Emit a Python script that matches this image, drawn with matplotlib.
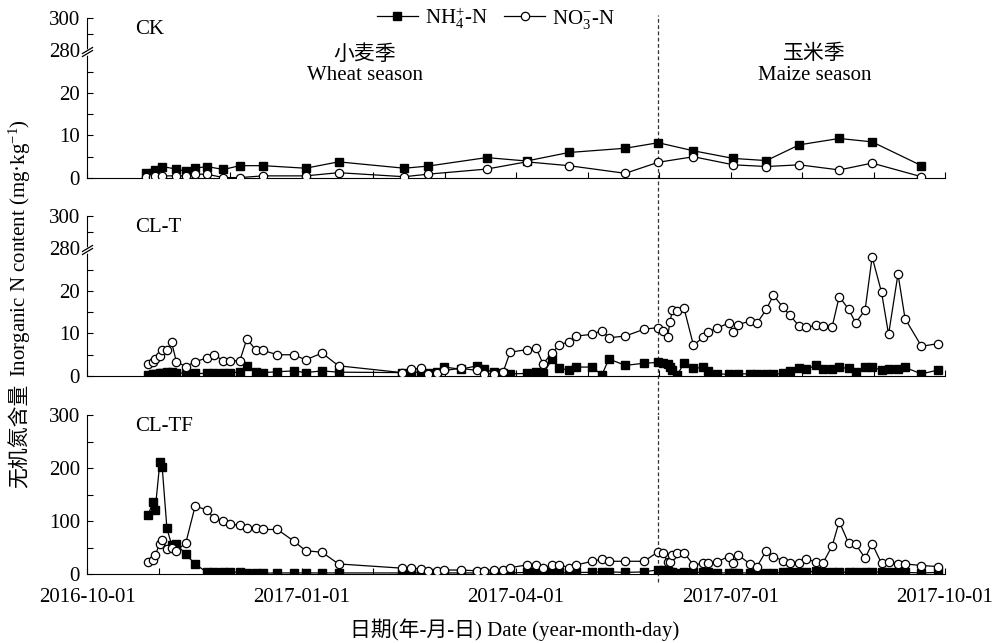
import numpy as np
import pandas as pd
import matplotlib
matplotlib.use("Agg")
import matplotlib.pyplot as plt
import matplotlib.dates as mdates

plt.rcParams['font.family'] = ['Liberation Serif', 'Noto Sans CJK SC']
plt.rcParams['mathtext.fontset'] = 'custom'
plt.rcParams['mathtext.rm'] = 'Liberation Serif'
plt.rcParams['mathtext.it'] = 'Liberation Serif:italic'
plt.rcParams['font.size'] = 15
plt.rcParams['axes.linewidth'] = 0.8
FS = 15

# ---- data ----
ck_dates = ['2016-10-26', '2016-10-29', '2016-10-30', '2016-11-02', '2016-11-08', '2016-11-12',
            '2016-11-16', '2016-11-21', '2016-11-28', '2016-12-05', '2016-12-15', '2017-01-02',
            '2017-01-16', '2017-02-13', '2017-02-23', '2017-03-20', '2017-04-06', '2017-04-24',
            '2017-05-18', '2017-06-01', '2017-06-16', '2017-07-03', '2017-07-17', '2017-07-31',
            '2017-08-17', '2017-08-31', '2017-09-21']
ck_nh4 = [1.1, 1.25, 1.9, 2.7, 2.1, 1.6, 2.3, 2.7, 2.0, 2.9, 2.9, 2.3, 3.8, 2.3, 2.8, 4.8, 4.0,
          6.0, 7.0, 8.3, 6.4, 4.6, 4.1, 7.8, 9.3, 8.5, 2.9]
ck_no3 = [0.3, 0.3, 0.5, 0.5, 0.5, 0.5, 0.9, 0.9, 0.1, 0.1, 0.5, 0.5, 1.25, 0.3, 0.9, 2.1, 3.8,
          2.9, 1.1, 3.7, 5.0, 3.1, 2.7, 3.1, 1.9, 3.5, 0.3]

cl_dates = ['2016-10-27', '2016-10-29', '2016-10-30', '2016-11-01', '2016-11-02', '2016-11-04',
            '2016-11-06', '2016-11-08', '2016-11-12', '2016-11-16', '2016-11-21', '2016-11-24',
            '2016-11-28', '2016-12-01', '2016-12-05', '2016-12-08', '2016-12-12', '2016-12-15',
            '2016-12-21', '2016-12-28', '2017-01-02', '2017-01-09', '2017-01-16', '2017-02-12',
            '2017-02-16', '2017-02-20', '2017-02-23', '2017-02-27', '2017-03-02', '2017-03-09',
            '2017-03-16', '2017-03-19', '2017-03-23', '2017-03-27',
            '2017-03-30', '2017-04-06', '2017-04-10', '2017-04-13', '2017-04-17', '2017-04-20',
            '2017-04-24', '2017-04-27', '2017-05-04', '2017-05-08', '2017-05-11', '2017-05-18',
            '2017-05-26', '2017-06-01', '2017-06-03', '2017-06-05', '2017-06-06', '2017-06-07',
            '2017-06-09', '2017-06-12', '2017-06-16', '2017-06-20', '2017-06-22', '2017-06-26',
            '2017-07-01', '2017-07-03', '2017-07-05', '2017-07-10', '2017-07-13', '2017-07-17',
            '2017-07-20', '2017-07-24', '2017-07-27', '2017-07-31', '2017-08-03', '2017-08-07',
            '2017-08-10', '2017-08-14', '2017-08-17', '2017-08-21', '2017-08-24', '2017-08-28',
            '2017-08-31', '2017-09-04', '2017-09-07', '2017-09-11', '2017-09-14', '2017-09-21',
            '2017-09-28']
clt_nh4 = [0.2, 0.5, 0.5, 0.6, 0.8, 0.9, 1.0, 0.8, 0.6, 0.6, 0.6, 0.8, 0.8, 0.8, 0.9, 2.4, 1.0,
           0.8, 1.0, 1.2, 0.8, 1.2, 0.9, 0.8, 1.0, 0.8, 0.6, 1.0, 2.1, 1.6, 2.4, 1.6, 0.9, 0.6,
           0.5, 0.6, 1.0, 0.6, 4.0, 1.8, 1.4, 2.1, 2.1, 0.2, 4.0, 2.5, 3.0, 3.2, 3.0, 2.9, 2.2,
           1.4, 0.2, 3.0, 1.8, 2.0, 1.2, 0.5, 0.4, 0.2, 0.5, 0.5, 0.5, 0.4, 0.4, 0.6, 1.2, 1.8,
           1.6, 2.5, 1.7, 1.6, 2.0, 1.8, 1.0, 2.2, 2.1, 1.4, 1.6, 1.6, 2.0, 0.5, 1.4]
clt_no3 = [2.8, 3.4, 4.0, 4.8, 6.2, 6.0, 7.9, 3.4, 2.2, 3.4, 4.2, 5.0, 3.6, 3.6, 3.6, 8.7, 6.0,
           6.0, 5.0, 5.0, 3.8, 5.4, 2.4, 0.8, 1.6, 1.8, 0.5, 0.8, 1.3, 1.8, 1.3, 0.5, 0.5, 0.9,
           5.6, 6.2, 6.6, 2.9, 5.5, 7.4, 8.0, 9.4, 9.8, 10.7, 9.0, 9.4, 11.0, 11.4, 10.5, 9.2,
           12.7, 15.5, 15.3, 15.9, 7.2, 9.1, 10.4, 11.2, 12.5, 10.4, 12.1, 12.9, 12.4, 15.7,
           19.0, 16.2, 14.3, 11.7, 11.5, 11.9, 11.7, 11.6, 18.7, 15.7, 12.5, 15.5, 28.0, 19.7,
           9.8, 24.0, 13.5, 7.0, 7.6]
cltf_nh4 = [111, 135, 121, 211, 201, 86, 55, 57, 37, 19, 3, 3.5, 3.5, 3.5, 3.5, 2.5, 2, 1.5, 2,
            2, 2, 2, 2, 2, 2, 2, 2, 2, 2, 2, 2, 2, 2, 2,
            2, 3, 3, 2, 3, 3, 2, 3, 3, 4, 4, 3, 4, 8, 7, 5, 4, 3, 2, 3, 3, 3, 3, 2, 2, 2, 2, 2,
            2, 2, 2, 3, 3, 4, 4, 5, 4, 4, 4, 3, 3, 3, 3, 4, 4, 3, 3, 2, 3]
cltf_no3 = [23, 26, 36, 57, 64, 48, 50, 44, 58, 128, 121, 105, 100, 94, 92, 86, 86, 84, 84, 62,
            44, 41, 19, 11, 12, 9, 6, 6, 7.5, 7.5, 6, 6, 7.5, 7.5,
            12, 17, 17, 11, 17, 17, 12, 17, 24, 28, 24, 24, 24, 42, 40, 23, 23, 36, 40, 40, 17,
            20, 20, 23, 33, 20, 36, 19, 14, 44, 33, 25, 20, 20, 28, 23, 20, 53, 99, 58, 56, 30,
            57, 20, 22, 19, 19, 16, 14]

tick_labels = ['2016-10-01', '2017-01-01', '2017-04-01', '2017-07-01', '2017-10-01']
season_split = '2017-06-01'

start = mdates.date2num(pd.Timestamp('2016-10-01'))
end = mdates.date2num(pd.Timestamp('2017-10-01'))

# broken y axis: 0-30 stretched, 280-300 at the top
yp = [0, 30, 280, 300]
fp = [0, 0.797, 0.8, 1.0]
def fwd(v):
    return np.interp(v, yp, fp)
def inv(v):
    return np.interp(v, fp, yp)

fig = plt.figure(figsize=(10.03, 6.43), dpi=100)
left, width = 87 / 1003, 858 / 1003
ax1 = fig.add_axes([left, 1 - 178 / 643, width, 160 / 643])
ax2 = fig.add_axes([left, 1 - 376 / 643, width, 160 / 643])
ax3 = fig.add_axes([left, 1 - 574 / 643, width, 159 / 643])

panels = [(ax1, ck_dates, ck_nh4, ck_no3, 'CK'),
          (ax2, cl_dates, clt_nh4, clt_no3, 'CL-T'),
          (ax3, cl_dates, cltf_nh4, cltf_no3, 'CL-TF')]

for ax, dts, nh4, no3, name in panels:
    x = mdates.date2num(pd.to_datetime(dts))
    ax.plot(x, nh4, color='black', lw=0.9, marker='s', ms=5.5, mfc='black', mec='black',
            label=r'NH$_4^{+}$-N', zorder=3)
    ax.plot(x, no3, color='black', lw=0.9, marker='o', ms=6, mfc='white', mec='black',
            mew=0.9, label=r'NO$_3^{-}$-N', zorder=4)
    for s in ['top', 'right']:
        ax.spines[s].set_visible(False)
    ax.set_xlim(start, end)
    ax.set_xticks(np.linspace(start, end, 13))
    ax.tick_params(axis='both', which='both', direction='in', length=4, width=0.8, labelsize=FS)
    ax.tick_params(axis='y', pad=5)
    ax.text(0.056, 0.93, name, transform=ax.transAxes, ha='left', va='center', fontsize=FS)

for ax in (ax1, ax2):
    ax.set_yscale('function', functions=(fwd, inv))
    ax.set_ylim(0, 300)
    ax.set_yticks([0, 10, 20, 280, 300])
    ax.set_yticks([5, 15, 25, 290], minor=True)
    ax.set_yticklabels(['0', '10', '20', '280', '300'])
    ax.set_xticklabels([])
    # break mark on the y spine
    ax.plot([0], [0.79], transform=ax.transAxes, marker=[(-1, -0.6), (1, 0.6)],
            ms=10, mec='white', mew=4, clip_on=False, zorder=5)
    ax.plot([0, 0], [0.783, 0.797], transform=ax.transAxes, marker=[(-1, -0.6), (1, 0.6)],
            ms=8, mec='black', mew=0.9, ls='none', clip_on=False, zorder=6)

ax3.set_ylim(0, 300)
ax3.set_yticks([0, 100, 200, 300])
ax3.set_yticks([50, 150, 250], minor=True)
labs = []
for i in range(13):
    labs.append(tick_labels[i // 3] if i % 3 == 0 else '')
ax3.set_xticklabels(labs)
ax3.tick_params(axis='x', pad=10)

# season separator
xs = mdates.date2num(pd.Timestamp(season_split))
ax1.axvline(xs, ymin=-0.24, ymax=1.02, color='#333333', lw=0.9, ls=(0, (3, 2)), clip_on=False)
ax2.axvline(xs, ymin=-0.25, ymax=1.0, color='#333333', lw=0.9, ls=(0, (3, 2)), clip_on=False)
ax3.axvline(xs, ymin=-0.05, ymax=1.0, color='#333333', lw=0.9, ls=(0, (3, 2)), clip_on=False)

ax1.text(0.324, 0.77, '小麦季', transform=ax1.transAxes, ha='center', va='center', fontsize=FS)
ax1.text(0.324, 0.64, 'Wheat season', transform=ax1.transAxes, ha='center', va='center', fontsize=FS)
ax1.text(0.848, 0.77, '玉米季', transform=ax1.transAxes, ha='center', va='center', fontsize=FS)
ax1.text(0.848, 0.64, 'Maize season', transform=ax1.transAxes, ha='center', va='center', fontsize=FS)

h, l = ax1.get_legend_handles_labels()
fig.legend(h, l, loc='center', bbox_to_anchor=(0.494, 1 - 18 / 643), ncol=2, frameon=False,
           handlelength=2.0, columnspacing=0.8, handletextpad=0.3, fontsize=FS)

# y label: Chinese part and English (mathtext) part as separate texts
fig.text(0.02, 1 - 436 / 643, '无机氮含量', rotation=90, ha='center', va='center', fontsize=FS)
fig.text(0.02, 1 - 248 / 643, r'Inorganic N content (mg·kg$^{-1}$)', rotation=90,
         ha='center', va='center', fontsize=FS)
fig.text(0.513, 1 - 630 / 643, '日期(年-月-日) Date (year-month-day)', ha='center', va='center',
         fontsize=FS)

fig.savefig('out.png', dpi=100)
